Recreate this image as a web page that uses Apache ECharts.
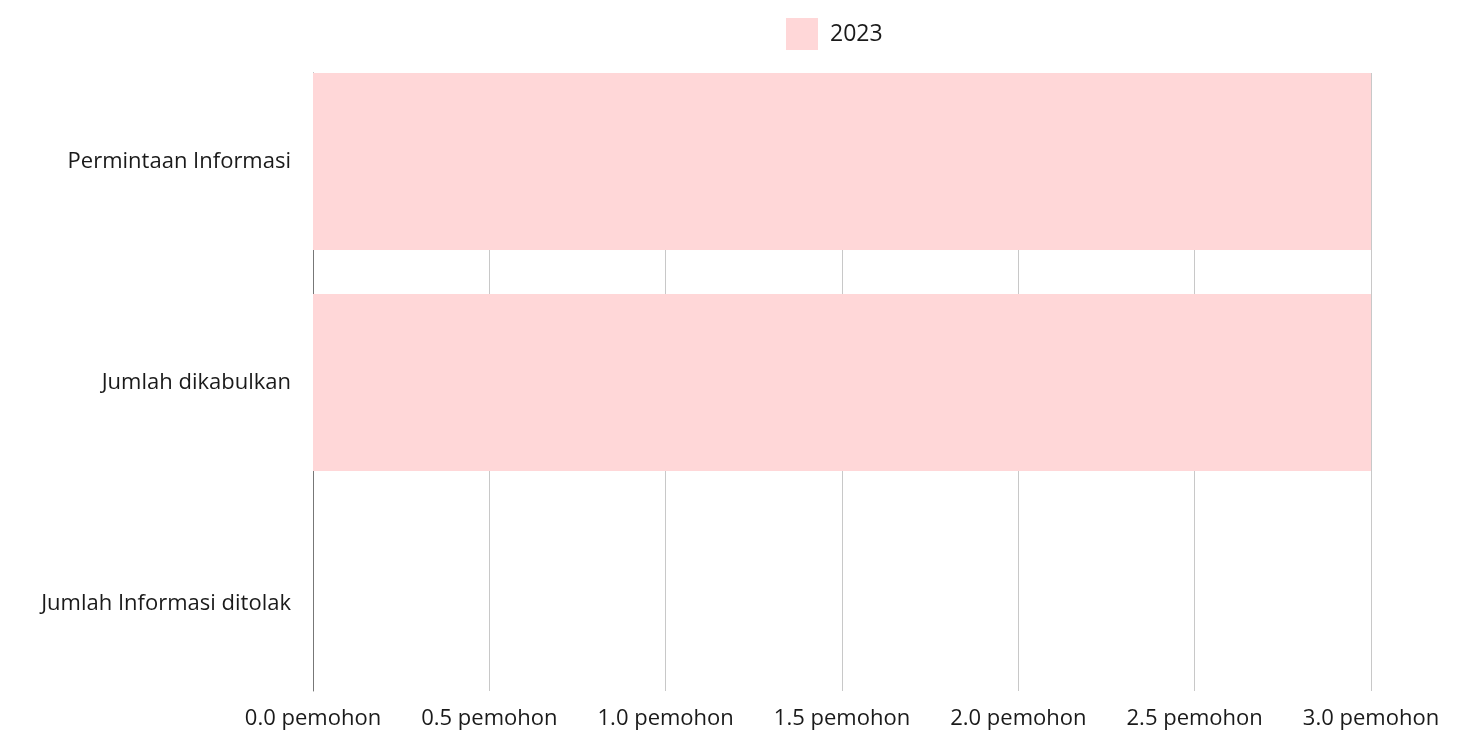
<!DOCTYPE html>
<html>
<head>
<meta charset="utf-8">
<script src="https://cdn.jsdelivr.net/npm/echarts@6/dist/echarts.min.js"></script>
<style>
  html, body { margin: 0; padding: 0; background: #fff; }
  #chart { width: 1467px; height: 731px; }
</style>
</head>
<body>
<div id="chart"></div>
<script>
const categories = ['Permintaan Informasi', 'Jumlah dikabulkan', 'Jumlah Informasi ditolak']
const values2023 = [3, 3, 0]
const seriesName = '2023'
const xTicks = [0, 0.5, 1, 1.5, 2, 2.5, 3]

const font = '"Open Sans", sans-serif'
const chart = echarts.init(document.getElementById('chart'))

chart.setOption({
  animation: false,
  textStyle: { fontFamily: font },
  legend: {
    data: [seriesName],
    top: 13,
    left: 781,
    itemWidth: 32,
    itemHeight: 32,
    icon: 'rect',
    itemStyle: { borderRadius: 2 },
    textStyle: { fontSize: 23, color: '#1a1a1a', fontFamily: font, padding: [0, 0, 0, 7] }
  },
  grid: [
    // bars
    { left: 313, right: 96, top: 51, height: 663 },
    // axes, split lines, tick labels
    { left: 313, right: 96, top: 73, bottom: 40 }
  ],
  xAxis: [
    {
      gridIndex: 0,
      type: 'value',
      min: 0,
      max: 3,
      interval: 0.5,
      show: false
    },
    {
      gridIndex: 1,
      type: 'value',
      min: xTicks[0],
      max: xTicks[xTicks.length - 1],
      interval: 0.5,
      axisLine: { show: false },
      axisTick: { show: false },
      splitLine: { show: true, lineStyle: { color: '#c8c8c8', width: 1 } },
      axisLabel: {
        margin: 17,
        fontSize: 22,
        color: '#1a1a1a',
        fontFamily: font,
        formatter: v => v.toFixed(1) + ' pemohon'
      }
    }
  ],
  yAxis: [
    {
      gridIndex: 0,
      type: 'category',
      data: categories,
      inverse: true,
      axisLine: { show: false },
      axisTick: { show: false },
      axisLabel: { margin: 22, fontSize: 22, color: '#1a1a1a', fontFamily: font }
    },
    {
      gridIndex: 1,
      type: 'category',
      data: categories,
      inverse: true,
      axisLine: { show: true, lineStyle: { color: '#777', width: 1 } },
      axisTick: { show: false },
      axisLabel: { show: false }
    }
  ],
  series: [
    {
      name: seriesName,
      type: 'bar',
      xAxisIndex: 0,
      yAxisIndex: 0,
      data: values2023,
      barCategoryGap: '20%',
      itemStyle: { color: '#ffd7d8' }
    }
  ]
})
</script>
</body>
</html>
